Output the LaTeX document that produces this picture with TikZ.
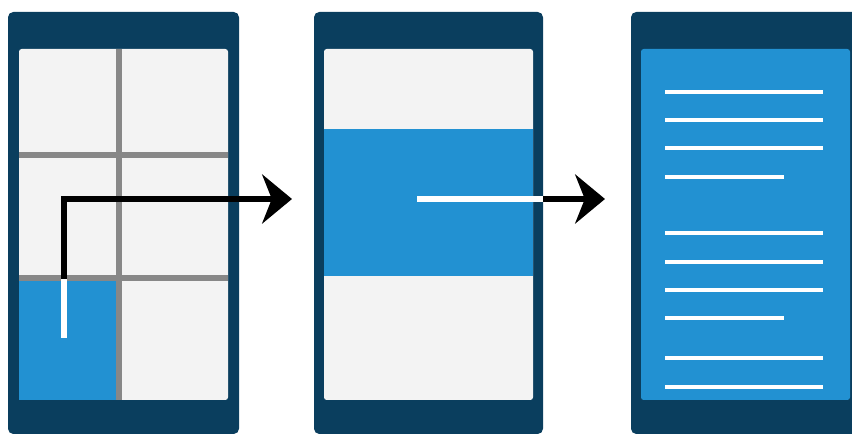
\documentclass[tikz,border=0pt]{standalone}
\definecolor{framenavy}{RGB}{10, 62, 94}
\definecolor{tileblue}{RGB}{34, 145, 210}
\definecolor{tilegray}{RGB}{243, 243, 243}
\definecolor{dividergray}{RGB}{135, 135, 135}
\usepackage{tikz}
\usetikzlibrary{
    arrows.meta,
    calc
}

\begin{document}
\begin{tikzpicture}[x=0.02cm, y=-0.02cm,
        frame/.style={fill=framenavy, draw=none, rounded corners=3pt},
        screen/.style={fill=tilegray, draw=none, rounded corners=1.5pt},
        divider/.style={draw=dividergray, line width=2.9pt},
        textline/.style={draw=white, line width=2.8pt},
        swipe/.style={draw=black, line width=3.4pt, -{Stealth[length=17pt, width=28pt, inset=5.5pt]}},
        trail/.style={draw=white, line width=3.4pt}]
    \useasboundingbox (0,0) rectangle (852,435);

    % Phone 1: grid of tiles
    \draw[frame] (8,12) rectangle (239,434);
    \draw[screen] (19,49) rectangle (228,400);
    \fill[tileblue] (19,279) rectangle (117,400);
    \draw[divider] (119,49) -- (119,400);
    \draw[divider] (19,155) -- (228,155);
    \draw[divider] (19,278) -- (228,278);

    % Phone 2: selected row
    \draw[frame] (314,12) rectangle (543,434);
    \draw[screen] (324,49) rectangle (533,400);
    \fill[tileblue] (324,129) rectangle (533,276);

    % Phone 3: opened content
    \draw[frame] (631,12) rectangle (880,434);
    \draw[screen, fill=tileblue] (641,49) rectangle (850,400);
    \foreach \y/\len in {92/823, 120/823, 148/823, 177/784,
                         233/823, 262/823, 290/823, 318/784,
                         358/823, 387/823}
        \draw[textline] (665,\y) -- (\len,\y);

    % Swipe gestures
    \coordinate (touch1) at (64,279);
    \coordinate (lift1) at (64,338);
    \coordinate (tip1) at (292,199);
    \coordinate (touch2) at (417,199);
    \coordinate (edge2) at (543,199);
    \coordinate (tip2) at (605,199);

    \draw[swipe] (touch1) |- (tip1);
    \draw[trail] (touch1) -- (lift1);
    \draw[swipe] (touch2) -- (tip2);
    \draw[trail] (touch2) -- (edge2);
\end{tikzpicture}
\end{document}
